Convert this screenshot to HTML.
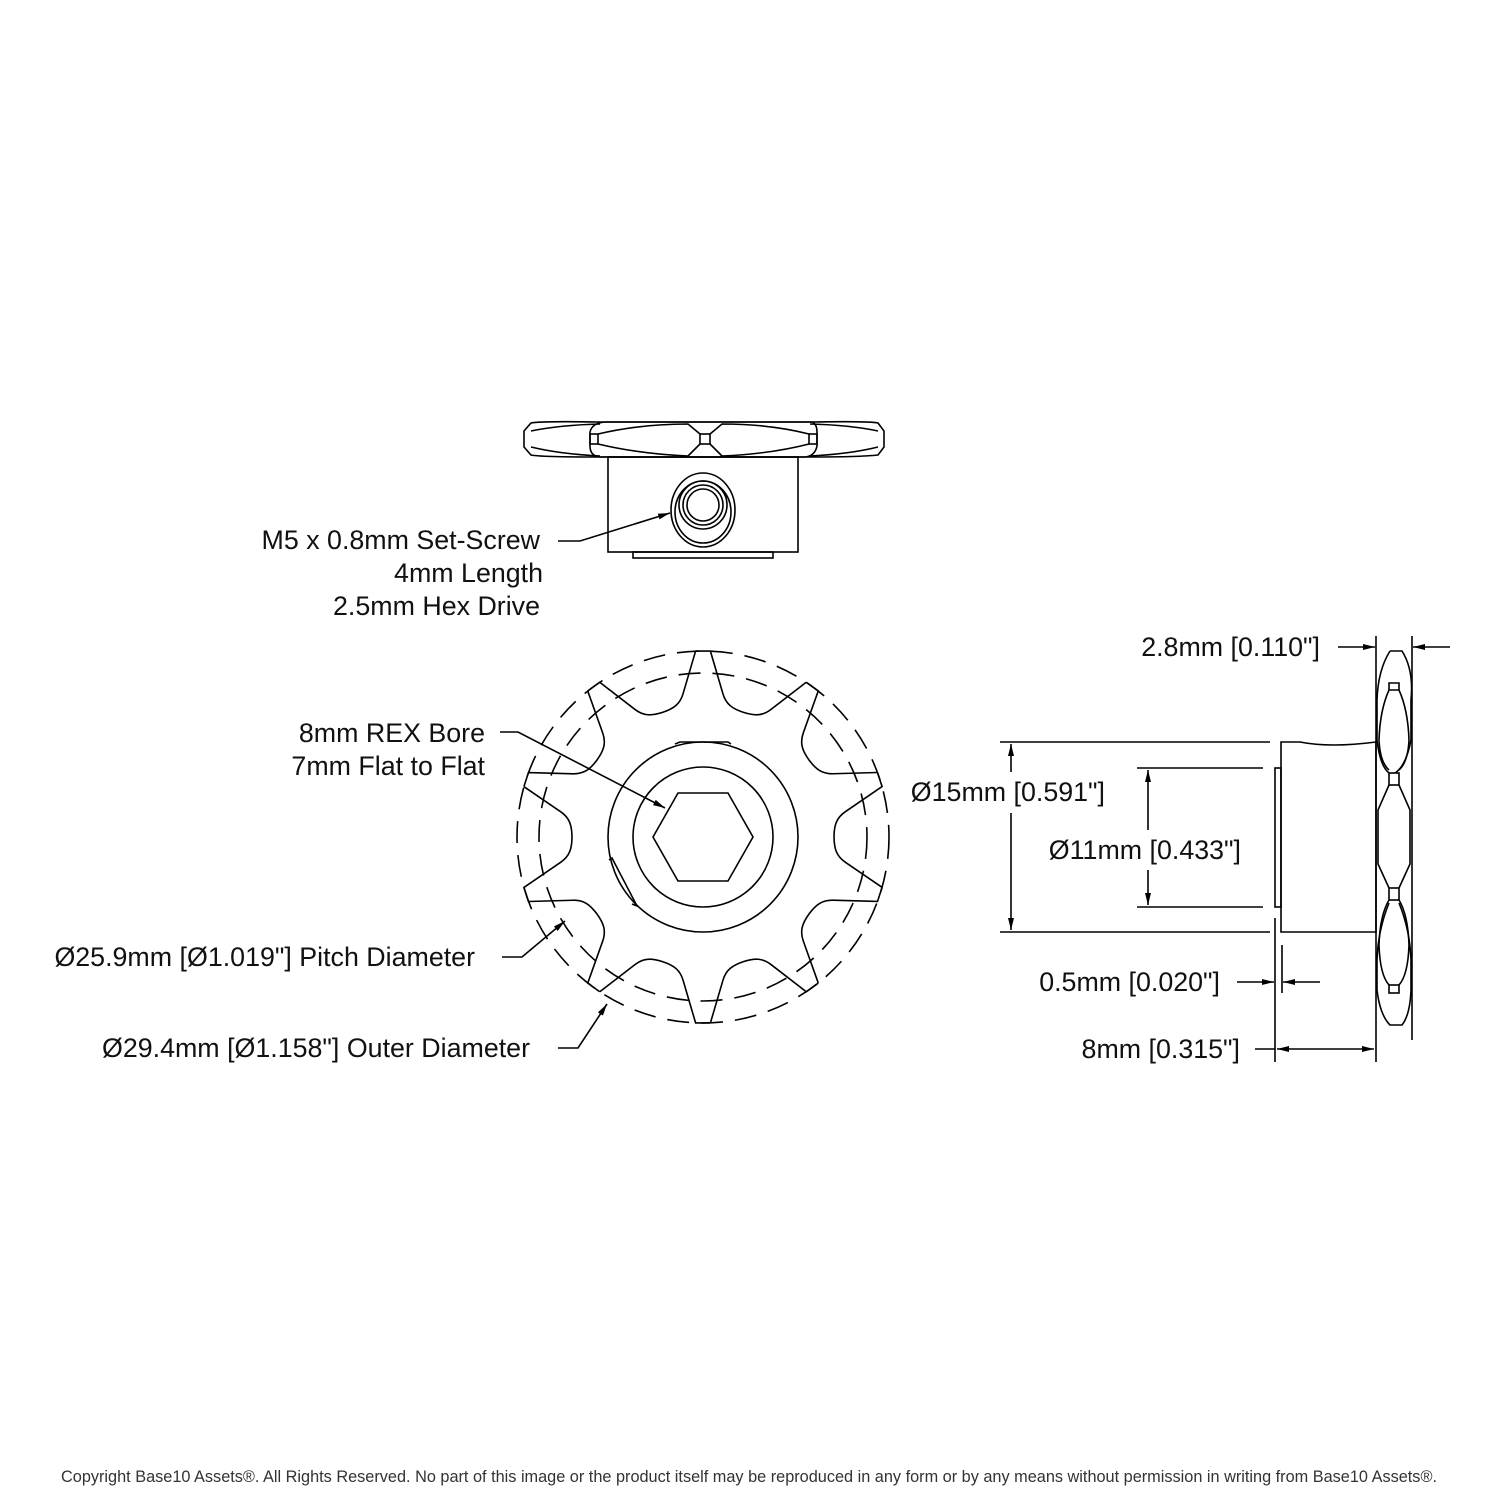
<!DOCTYPE html>
<html><head><meta charset="utf-8">
<style>
html,body{margin:0;padding:0;background:#fff;}
svg{display:block;}
text{font-family:"Liberation Sans",sans-serif;font-size:26.8px;fill:#111;}
</style></head><body>
<svg width="1500" height="1500" viewBox="0 0 1500 1500" xmlns="http://www.w3.org/2000/svg" xmlns:xlink="http://www.w3.org/1999/xlink">
<defs>
<marker id="a" viewBox="0 0 12 6" refX="12" refY="3" markerWidth="12" markerHeight="6" markerUnits="userSpaceOnUse" orient="auto"><path d="M0,0 L12,3 L0,6 z" fill="#000"/></marker>
<marker id="as" viewBox="0 0 12 6" refX="12" refY="3" markerWidth="12" markerHeight="6" markerUnits="userSpaceOnUse" orient="auto-start-reverse"><path d="M0,0 L12,3 L0,6 z" fill="#000"/></marker>
<path id="seg" d="M-7.4,-185.9 L7.4,-185.9 C11,-174 15,-160 20,-143 C23,-133 29.1,-128.3 40.5,-124.6 C51.9,-121.0 59.6,-121.1 67.9,-127.5 C81.9,-138.3 93.3,-147.2 103.2,-154.7"/>
</defs>
<g fill="none" stroke="#000" stroke-width="1.6">
<!-- TOP VIEW -->
<path d="M531,423 Q540,421 600,422 L810,422 Q870,421 878,423 L884,431 L884,447 L878,455 Q860,457 810,457 L600,457 Q540,457 531,455 L524,447 L524,431 Z"/>
<path d="M531,431 Q560,425 600,424 M531,447 Q560,454 600,456 M878,431 Q850,425 810,424 M878,447 Q850,454 810,456"/>
<path d="M590,432 Q592,423 605,422 L812,422 Q817,424 817,432 L817,446 Q815,456 805,457 L600,457 Q590,456 590,446 Z"/>
<rect x="590" y="434" width="8" height="10"/><rect x="700" y="434" width="10" height="10"/><rect x="809" y="434" width="8" height="10"/>
<path d="M598,434 Q640,424 688,424 L700,434 M598,444 Q640,454 688,456 L700,444 M710,434 L722,424 Q770,424 809,434 M710,444 L722,456 Q770,454 809,444"/>
<rect x="608" y="457" width="190" height="95"/>
<rect x="633" y="552" width="140" height="6"/>
<ellipse cx="703" cy="510" rx="32" ry="37"/>
<ellipse cx="703" cy="512" rx="28" ry="31"/>
<circle cx="703" cy="505" r="24"/>
<circle cx="703" cy="505" r="20"/>
<circle cx="703" cy="505" r="16"/>
<path d="M558,541 L580,541 L670,513" marker-end="url(#a)"/>

<!-- FRONT VIEW -->
<circle cx="703" cy="837" r="186" stroke-dasharray="22,12"/>
<circle cx="703" cy="837" r="164" stroke-dasharray="22,12"/>
<g transform="translate(703,837)">
<use xlink:href="#seg" href="#seg"/>
<use xlink:href="#seg" href="#seg" transform="rotate(36)"/>
<use xlink:href="#seg" href="#seg" transform="rotate(72)"/>
<use xlink:href="#seg" href="#seg" transform="rotate(108)"/>
<use xlink:href="#seg" href="#seg" transform="rotate(144)"/>
<use xlink:href="#seg" href="#seg" transform="rotate(180)"/>
<use xlink:href="#seg" href="#seg" transform="rotate(216)"/>
<use xlink:href="#seg" href="#seg" transform="rotate(252)"/>
<use xlink:href="#seg" href="#seg" transform="rotate(288)"/>
<use xlink:href="#seg" href="#seg" transform="rotate(324)"/>
</g>
<circle cx="703" cy="837" r="95"/>
<circle cx="703" cy="837" r="70"/>
<polygon points="653,837 678,793 728,793 753,837 728,881 678,881"/>
<path d="M675,744 L680,742 L728,742 L731,744"/>
<path d="M609,860 L612,858 L637,906 L632,904"/>
<path d="M500,732 L518,732 L665,808" marker-end="url(#a)"/>
<path d="M502,957 L522,957 L565,921" marker-end="url(#a)"/>
<path d="M558,1048 L578,1048 L607,1004" marker-end="url(#a)"/>

<!-- SIDE VIEW -->
<line x1="1000" y1="742" x2="1270" y2="742"/>
<line x1="1000" y1="932" x2="1270" y2="932"/>
<line x1="1137" y1="768" x2="1263" y2="768"/>
<line x1="1137" y1="907" x2="1263" y2="907"/>
<line x1="1011" y1="772" x2="1011" y2="744" marker-end="url(#a)"/>
<line x1="1011" y1="813" x2="1011" y2="930" marker-end="url(#a)"/>
<line x1="1148" y1="830" x2="1148" y2="770" marker-end="url(#a)"/>
<line x1="1148" y1="870" x2="1148" y2="905" marker-end="url(#a)"/>
<rect x="1275" y="768" width="6" height="139"/>
<path d="M1281,742 L1300,742 Q1330,748 1376,742 L1376,932 L1281,932 Z"/>
<line x1="1275" y1="918" x2="1275" y2="1062"/>
<line x1="1282" y1="945" x2="1282" y2="993"/>
<line x1="1376" y1="636" x2="1376" y2="1062"/>
<line x1="1412" y1="636" x2="1412" y2="1040"/>
<line x1="1237" y1="982" x2="1274" y2="982" marker-end="url(#a)"/>
<line x1="1320" y1="982" x2="1283" y2="982" marker-end="url(#a)"/>
<line x1="1255" y1="1049" x2="1275" y2="1049"/>
<line x1="1277" y1="1049" x2="1374" y2="1049" marker-start="url(#as)" marker-end="url(#a)"/>
<line x1="1338" y1="647" x2="1375" y2="647" marker-end="url(#a)"/>
<line x1="1450" y1="647" x2="1413" y2="647" marker-end="url(#a)"/>
<path d="M1390,651 L1402,651 Q1414,670 1411,700 L1411,740 Q1406,766 1395,773 M1390,651 Q1378,670 1377,700 L1377,740 Q1380,766 1389,773"/>
<path d="M1389,683 L1399,683 L1399,690 L1389,690 Z M1389,690 Q1380,710 1379,740 Q1380,762 1389,770 M1399,690 Q1408,710 1409,740 Q1408,762 1399,770"/>
<rect x="1389" y="773" width="10" height="12"/>
<path d="M1389,785 L1378,810 L1378,864 L1389,888 M1399,785 L1410,810 L1410,864 L1399,888"/>
<rect x="1389" y="888" width="10" height="12"/>
<path d="M1389,903 Q1378,930 1377,960 L1377,990 Q1380,1015 1390,1025 L1402,1025 Q1410,1015 1411,990 L1411,960 Q1410,930 1399,903"/>
<path d="M1389,900 Q1380,915 1379,945 Q1380,975 1389,985 M1399,900 Q1408,915 1409,945 Q1408,975 1399,985"/>
<rect x="1389" y="985" width="10" height="8"/>
</g>
<g>
<text x="540" y="549" text-anchor="end">M5 x 0.8mm Set-Screw</text>
<text x="543" y="582" text-anchor="end">4mm Length</text>
<text x="540" y="615" text-anchor="end">2.5mm Hex Drive</text>
<text x="485" y="742" text-anchor="end">8mm REX Bore</text>
<text x="485" y="775" text-anchor="end">7mm Flat to Flat</text>
<text x="475" y="966" text-anchor="end">Ø25.9mm [Ø1.019"] Pitch Diameter</text>
<text x="530" y="1057" text-anchor="end">Ø29.4mm [Ø1.158"] Outer Diameter</text>
<text x="1320" y="656" text-anchor="end">2.8mm [0.110"]</text>
<text x="1105" y="801" text-anchor="end">Ø15mm [0.591"]</text>
<text x="1241" y="859" text-anchor="end">Ø11mm [0.433"]</text>
<text x="1220" y="991" text-anchor="end">0.5mm [0.020"]</text>
<text x="1240" y="1058" text-anchor="end">8mm [0.315"]</text>
<text x="749" y="1482" text-anchor="middle" style="font-size:16.3px;fill:#333">Copyright Base10 Assets®.  All Rights Reserved. No part of this image or the product itself may be reproduced in any form or by any means without permission in writing from Base10 Assets®.</text>
</g>
</svg>
</body></html>
